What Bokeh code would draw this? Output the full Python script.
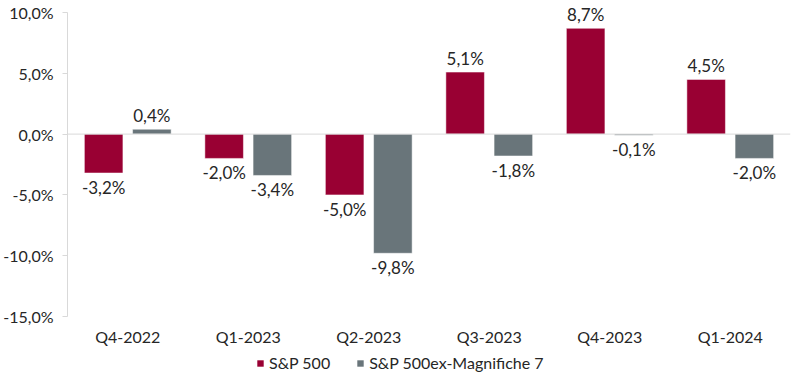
from bokeh.plotting import figure
from bokeh.layouts import column
from bokeh.models import (ColumnDataSource, FactorRange, Range1d, Span, Legend, LegendItem,
                          CustomJSTickFormatter, FixedTicker)
from bokeh.transform import dodge
from bokeh.core.properties import value
from bokeh.embed import file_html
from bokeh.resources import INLINE

quarters = ["Q4-2022", "Q1-2023", "Q2-2023", "Q3-2023", "Q4-2023", "Q1-2024"]
sp500 = [-3.2, -2.0, -5.0, 5.1, 8.7, 4.5]
ex_mag7 = [0.4, -3.4, -9.8, -1.8, -0.1, -2.0]
series_names = ["S&P 500", "S&P 500ex-Magnifiche 7"]
y_ticks = [-15, -10, -5, 0, 5, 10]
y_min, y_max = -15, 10

RED = "#990033"
GRAY = "#69757A"
TXT = "#262626"
FONT = "Lato"


def fmt(v):
    return ("%.1f" % v).replace(".", ",") + "%"


def make_src(vals):
    return ColumnDataSource(dict(
        q=quarters, v=vals,
        lpos=[fmt(v) if v >= 0 else "" for v in vals],
        lneg=[fmt(v) if v < 0 else "" for v in vals],
    ))


s1 = make_src(sp500)
s2 = make_src(ex_mag7)

# extra headroom above the axis top so that the 8,7% label is not clipped
headroom = 12 * (y_max - y_min) / 304.0

p = figure(width=800, height=348, x_range=FactorRange(*quarters, range_padding=0),
           y_range=Range1d(y_min, y_max + headroom), output_backend="svg", toolbar_location=None,
           min_border_left=67, min_border_right=10, min_border_top=0, min_border_bottom=20)
p.outline_line_color = None
p.grid.visible = False
p.background_fill_color = "white"
p.border_fill_color = "white"

r1 = p.vbar(x=dodge("q", -0.2, range=p.x_range), top="v", width=0.32, source=s1,
            fill_color=RED, line_color="white", line_width=0.5)
r2 = p.vbar(x=dodge("q", 0.2, range=p.x_range), top="v", width=0.32, source=s2,
            fill_color=GRAY, line_color="white", line_width=0.5)

p.add_layout(Span(location=0, dimension="width", line_color="#d9d9d9", line_width=1))

for src, off in ((s1, -0.2), (s2, 0.2)):
    p.text(x=dodge("q", off, range=p.x_range), y="v", text="lpos", source=src,
           text_align="center", text_baseline="bottom", y_offset=-3,
           text_font=value(FONT), text_font_size="17px", text_color=TXT)
    p.text(x=dodge("q", off, range=p.x_range), y="v", text="lneg", source=src,
           text_align="center", text_baseline="top", y_offset=4,
           text_font=value(FONT), text_font_size="17px", text_color=TXT)

yax = p.yaxis[0]
yax.ticker = FixedTicker(ticks=y_ticks)
yax.bounds = (y_min, y_max)
yax.formatter = CustomJSTickFormatter(code="return tick.toFixed(1).replace('.', ',') + '%';")
yax.axis_line_color = "#d9d9d9"
yax.major_tick_line_color = "#d9d9d9"
yax.major_tick_in = 0
yax.major_tick_out = 5
yax.minor_tick_line_color = None
yax.major_label_text_font = FONT
yax.major_label_text_font_size = "16px"
yax.major_label_text_color = TXT
yax.major_label_standoff = 9

xax = p.xaxis[0]
xax.axis_line_color = None
xax.major_tick_line_color = None
xax.minor_tick_line_color = None
xax.major_tick_in = 0
xax.major_tick_out = 0
xax.major_label_text_font = FONT
xax.major_label_text_font_size = "16px"
xax.major_label_text_color = TXT
xax.major_label_standoff = 10

# legend strip (its frame is aligned with the main plot's frame by the column layout)
lg = figure(width=800, height=27, x_range=Range1d(0, 1), y_range=Range1d(0, 1),
            output_backend="svg", toolbar_location=None,
            min_border_left=0, min_border_right=0, min_border_top=0, min_border_bottom=0)
lg.outline_line_color = None
lg.axis.visible = False
lg.grid.visible = False
dummy = ColumnDataSource(dict(x=[-10], top=[0]))
d1 = lg.vbar(x="x", top="top", width=0.1, source=dummy, fill_color=RED, line_color=None)
d2 = lg.vbar(x="x", top="top", width=0.1, source=dummy, fill_color=GRAY, line_color=None)
legend = Legend(items=[LegendItem(label=series_names[0], renderers=[d1]),
                       LegendItem(label=series_names[1], renderers=[d2])],
                orientation="horizontal", location=(189, 3),
                label_text_font=FONT, label_text_font_size="16px", label_text_color=TXT,
                glyph_width=8, glyph_height=8, label_standoff=5, spacing=26,
                border_line_color=None, background_fill_alpha=0, padding=2, margin=0)
lg.add_layout(legend, "center")

layout = column(p, lg, spacing=0)
open("out.html", "w").write(file_html(layout, INLINE))
